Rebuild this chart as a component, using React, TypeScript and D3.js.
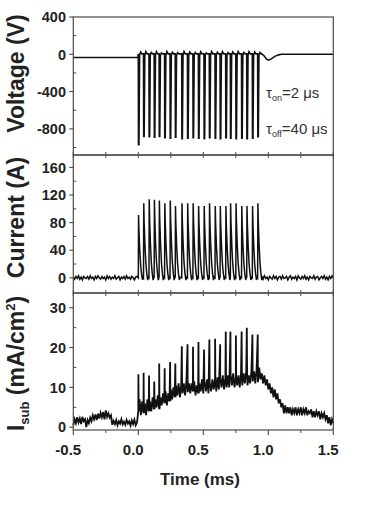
import React from "react";
import * as d3 from "d3";

// ---------- axis ticks ----------
const xTickValues = [-0.5, 0, 0.5, 1.0, 1.5];
const xTickLabels = ["-0.5", "0.0", "0.5", "1.0", "1.5"];
const xMinorTicks = [-0.25, 0.25, 0.75, 1.25];

const voltageTicks = [400, 0, -400, -800];
const voltageMinor = [200, -200, -600, -1000];
const currentTicks = [0, 40, 80, 120, 160];
const currentMinor = [20, 60, 100, 140];
const isubTicks = [0, 10, 20, 30];
const isubMinor = [5, 15, 25];

// ---------- pulse train (ms) ----------
const pulseTimes = [0, 0.04, 0.082, 0.122, 0.16, 0.202, 0.244, 0.284, 0.334, 0.378, 0.42, 0.462, 0.505, 0.546, 0.59, 0.629, 0.672, 0.708, 0.75, 0.794, 0.834, 0.877, 0.918];

// ---------- voltage ----------
const voltagePreLevel = -35;
const voltageDepths = [-970, -880, -885, -890, -880, -895, -900, -890, -905, -900, -895, -900, -905, -895, -900, -905, -895, -900, -905, -900, -905, -900, -885];
const voltageBumps = [25, 30, 20, 28, 15, 30, 22, 18, 30, 25, 20, 28, 15, 30, 22, 28, 18, 25, 30, 20, 28, 25, 20];
const voltagePostTimes = [0.95, 0.967, 0.985, 1.0, 1.02, 1.05, 1.08, 1.1, 1.5];
const voltagePostValues = [5, -15, -50, -62, -52, -22, -6, 0, 0];

// ---------- current ----------
const currentPeaks = [91, 108, 114, 113, 112, 108, 112, 104, 108, 108, 108, 104, 104, 108, 104, 104, 104, 108, 108, 104, 104, 104, 108];
const currentPulseDt = [0, 0.002, 0.005, 0.011, 0.018, 0.025, 0.032, 0.037];
const currentPulseFrac = [0, 1, 0.75, 0.45, 0.2, 0.06, -0.03, 0.01];
const currentPre = [
  1, -2, 2, -1, 3, -2, 1, -3, 2, 0,
  -1, 2, -2, 3, -1, 1, -3, 2, -1, 3,
  0, -2, 2, -1, 1, -3, 3, -1, 2, -2,
  1, -1, 3, -2, 0, 2, -3, 1, -1, 2,
  -2, 3, -1, 1, -2, 2, 0, -3, 1, 2,
];
const currentPost = [
  2, -2, 3, -1, 1, -3, 2, 0, -2, 3,
  -1, 2, -3, 1, 2, -2, 3, -1, 0, 2,
  -3, 1, 3, -2, 1, -1, 2, -3, 3, 0,
  -2, 2, -1, 3, -2, 1, -3, 2, 0, -1,
  3, -2, 1, 2, -3, 0, 2, -1, 3, -2,
  1, -3, 2, -1, 3, 0,
];

// ---------- substrate current density ----------
const isubPre = [
  0.5, 2.0, 1.0, 2.5, 1.2, 2.2, 0.8, 2.6, 1.5, 2.0,
  0.0, 1.8, 1.0, 2.4, 1.5, 3.0, 2.0, 3.2, 1.8, 3.4,
  2.2, 3.6, 2.5, 3.8, 2.0, 4.2, 2.6, 3.5, 2.4, 3.0,
  0.6, 1.6, 0.8, 1.8, 0.5, 1.5, 0.9, 2.0, 0.7, 1.4,
  0.6, 1.8, 0.9, 1.5, 0.4, 1.7, 0.8, 1.9, 0.5, 1.2,
];
const isubPulse = [
  4, 7, 3, 6.5, 3.5, 6, 3, 7, 4, 6.5,
  4, 7.5, 4.5, 7, 5, 8, 4.5, 7.5, 5.5, 8.5,
  6, 9, 5.5, 8.5, 6.5, 9.5, 7, 10, 7.5, 10.5,
  8, 11, 7.5, 10.5, 8.5, 11, 8, 11.5, 9, 11,
  8.5, 11, 9, 11.5, 8, 10.5, 8.5, 11, 9, 12,
  8.5, 11.5, 9, 12, 8.5, 11, 9, 12, 9.5, 12,
  9, 12.5, 9.5, 12, 10, 13, 9.5, 12.5, 10, 13,
  10, 13, 10.5, 13.5, 10, 12.5, 10.5, 13, 10, 13.5,
  10.5, 13.5, 11, 14, 10.5, 13, 11, 14, 11.5, 14,
  11, 14.5, 11.5, 15, 12,
];
const isubPost = [
  13.5, 11, 13, 10.5, 12, 9.5, 11, 8.5, 10, 7.5,
  9.5, 7, 8.5, 6, 7, 5, 6, 3.5, 5.5, 3.5,
  5, 3.5, 5, 3, 4.5, 3.5, 5, 3, 4.5, 3.5,
  5, 3, 4.5, 3.5, 5, 3, 4, 3.5, 4.5, 2.5,
  4, 2.5, 4, 3, 4, 2, 3.5, 2.5, 3.5, 2,
  3, 1, 2.5, 0.5, 2, 1,
];
const isubPeaks = [13.3, 13.7, 13.0, 11.5, 16.0, 14.8, 16.4, 16.0, 20.3, 20.8, 20.2, 21.4, 19.5, 22.0, 22.2, 20.8, 24.0, 24.0, 23.0, 24.0, 25.0, 23.3, 23.3];

// ---------- build traces ----------
type P = [number, number];
const vPts: P[] = [[-0.5, voltagePreLevel], [-0.003, voltagePreLevel]];
pulseTimes.forEach((t, i) => {
  const d = voltageDepths[i];
  const b = voltageBumps[i];
  vPts.push([t, 5], [t + 0.0015, d], [t + 0.005, d], [t + 0.01, -10], [t + 0.018, b], [t + 0.028, 5]);
});
voltagePostTimes.forEach((t, i) => vPts.push([t, voltagePostValues[i]]));

const cPts: P[] = [];
currentPre.forEach((v, i) => cPts.push([-0.5 + i * 0.01, v]));
pulseTimes.forEach((t, i) => {
  currentPulseDt.forEach((dt, j) => cPts.push([t + dt, currentPeaks[i] * currentPulseFrac[j]]));
});
currentPost.forEach((v, i) => cPts.push([0.95 + i * 0.01, v]));

const iPts: P[] = [];
isubPre.forEach((v, i) => iPts.push([-0.5 + i * 0.01, v]));
isubPulse.forEach((v, i) => iPts.push([i * 0.01, v]));
isubPost.forEach((v, i) => iPts.push([0.95 + i * 0.01, v]));
pulseTimes.forEach((t, i) => {
  const k = Math.min(Math.round(t / 0.01), isubPulse.length - 1);
  iPts.push([t + 0.0008, isubPeaks[i]], [t + 0.003, isubPulse[k]]);
});
iPts.sort((a, b) => a[0] - b[0]);

// ---------- layout ----------
const W = 376;
const H = 513;
const left = 73.3;
const right = 333.3;
const FONT = "'Liberation Sans', Arial, sans-serif";

const x = d3.scaleLinear().domain([-0.5, 1.5]).range([left, right]);

const panels = [
  { top: 17, bottom: 155, y: d3.scaleLinear().domain([-1080, 400]).range([155, 17]), ticks: voltageTicks, minor: voltageMinor, pts: vPts, sw: 1.6 },
  { top: 155, bottom: 293, y: d3.scaleLinear().domain([-22, 178]).range([293, 155]), ticks: currentTicks, minor: currentMinor, pts: cPts, sw: 1.5 },
  { top: 293, bottom: 430, y: d3.scaleLinear().domain([-0.7, 33.7]).range([430, 293]), ticks: isubTicks, minor: isubMinor, pts: iPts, sw: 1.8 },
];

export default function App() {
  const frame = "#4a4a4a";
  return (
    <svg width={W} height={H} style={{ position: "absolute", left: 0, top: 0, background: "#fff" }} fontFamily={FONT}>
      {panels.map((p, pi) => {
        const line = d3.line<P>().x((d) => x(d[0])).y((d) => p.y(d[1]));
        const allX = [...xTickValues, ...xMinorTicks];
        return (
          <g key={pi}>
            <path d={line(p.pts) || ""} fill="none" stroke="#111" strokeWidth={p.sw} strokeLinejoin="miter" />
            <rect x={left} y={p.top} width={right - left} height={p.bottom - p.top} fill="none" stroke={frame} strokeWidth={1.2} />
            {p.ticks.map((v) => (
              <g key={"t" + v}>
                <line x1={left - 4} x2={left} y1={p.y(v)} y2={p.y(v)} stroke={frame} strokeWidth={1.1} />
                <text x={66} y={p.y(v)} dy="0.36em" textAnchor="end" fontSize={14.5} fontWeight="bold" fill="#222">
                  {v}
                </text>
              </g>
            ))}
            {p.minor.map((v) => (
              <line key={"m" + v} x1={left} x2={left + 3} y1={p.y(v)} y2={p.y(v)} stroke={frame} strokeWidth={1} />
            ))}
            {pi < 2 &&
              allX.map((v) => (
                <line key={"b" + v} x1={x(v)} x2={x(v)} y1={p.bottom} y2={p.bottom - 3} stroke={frame} strokeWidth={1} />
              ))}
            {pi > 0 &&
              allX.map((v) => (
                <line key={"u" + v} x1={x(v)} x2={x(v)} y1={p.top} y2={p.top + 3} stroke={frame} strokeWidth={1} />
              ))}
          </g>
        );
      })}

      {xTickValues.map((v, i) => (
        <g key={"xt" + v}>
          <line x1={x(v)} x2={x(v)} y1={430} y2={435} stroke={frame} strokeWidth={1.1} />
          <text x={x(v) - 5} y={455} textAnchor="middle" fontSize={15} fontWeight="bold" fill="#222">
            {xTickLabels[i]}
          </text>
        </g>
      ))}
      {xMinorTicks.map((v) => (
        <line key={"xm" + v} x1={x(v)} x2={x(v)} y1={430} y2={433} stroke={frame} strokeWidth={1} />
      ))}
      <text x={200} y={485} textAnchor="middle" fontSize={17} fontWeight="bold" fill="#222">
        Time (ms)
      </text>

      <text transform="translate(23.5,73.5) rotate(-90)" textAnchor="middle" fontSize={23} fontWeight="bold" fill="#222">
        Voltage (V)
      </text>
      <text transform="translate(23.5,217.5) rotate(-90)" textAnchor="middle" fontSize={23} fontWeight="bold" fill="#222">
        Current (A)
      </text>
      <text transform="translate(23.5,363.5) rotate(-90)" textAnchor="middle" fontSize={23} fontWeight="bold" fill="#222">
        I
        <tspan fontSize={13} dy={5}>sub</tspan>
        <tspan dy={-5}> (mA/cm</tspan>
        <tspan fontSize={13} dy={-9}>2</tspan>
        <tspan dy={9}>)</tspan>
      </text>

      <text x={266} y={98} fontSize={15} fill="#333">
        τ<tspan fontSize={9} dy={3}>on</tspan>
        <tspan dy={-3}>=2 μs</tspan>
      </text>
      <text x={266} y={134} fontSize={15} fill="#333">
        τ<tspan fontSize={9} dy={3}>off</tspan>
        <tspan dy={-3}>=40 μs</tspan>
      </text>
    </svg>
  );
}
